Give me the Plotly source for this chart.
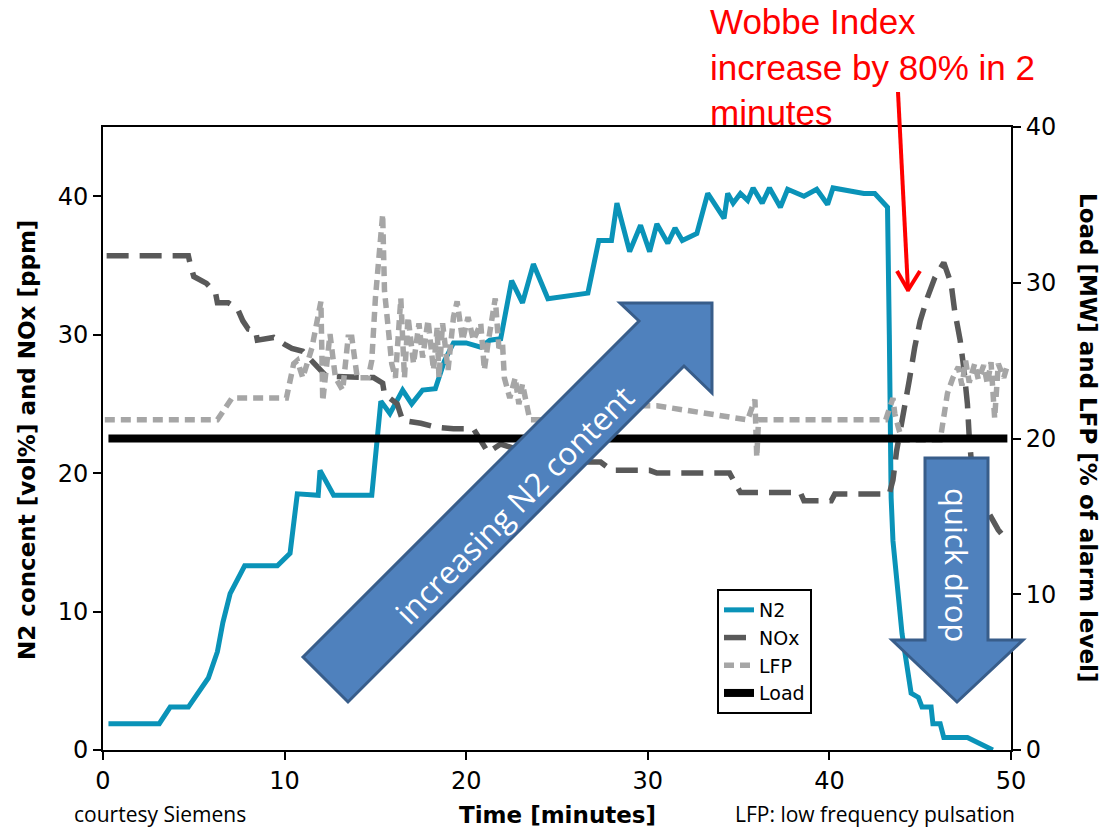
import plotly.graph_objects as go

# ---------------- data ----------------
n2_time = [0.3, 3.1, 3.7, 4.7, 5.8, 6.3, 6.6, 7.0, 7.8, 9.6, 10.3, 10.7, 11.85, 11.95, 12.7,
           14.8, 15.3, 15.8, 16.5, 17.0, 17.6, 18.3, 18.8, 19.3, 20.0, 20.8, 21.3, 21.9, 22.5,
           23.1, 23.7, 24.5, 26.7, 27.3, 28.0, 28.3, 29.0, 29.6, 30.1, 30.5, 31.1, 31.5, 31.9,
           32.7, 33.3, 34.2, 34.4, 34.7, 35.1, 35.5, 35.8, 36.3, 36.7, 37.3, 37.7, 38.6, 39.3,
           39.9, 40.2, 41.9, 42.5, 43.2, 43.3, 43.4, 43.5, 44.0, 44.5, 44.9, 45.1, 45.6, 45.7,
           46.1, 46.3, 47.6, 49.0]
n2_vol = [1.9, 1.9, 3.1, 3.1, 5.2, 7.1, 9.2, 11.3, 13.3, 13.3, 14.2, 18.5, 18.4, 20.2, 18.4,
          18.4, 25.2, 24.3, 26.0, 25.0, 26.0, 26.1, 28.1, 29.4, 29.4, 29.1, 29.6, 29.7, 33.9,
          32.3, 35.1, 32.6, 33.0, 36.8, 36.8, 39.5, 36.0, 37.9, 36.0, 38.0, 36.6, 37.7, 36.8,
          37.3, 40.2, 38.4, 40.2, 39.5, 40.2, 39.7, 40.6, 39.5, 40.6, 39.2, 40.5, 40.0, 40.5,
          39.4, 40.6, 40.2, 40.2, 39.2, 30.0, 18.2, 15.1, 8.4, 4.1, 3.8, 3.1, 3.1, 1.9,
          1.9, 0.9, 0.9, 0.0]

nox_time = [0.2, 4.7, 4.8, 5.0, 5.7, 6.2, 6.3, 6.9, 7.4, 7.7, 8.0, 8.4, 8.5, 9.4, 10.0, 10.4,
            11.0, 11.5, 12.3, 14.9, 15.4, 15.5, 16.2, 16.5, 17.5, 18.4, 19.3, 20.4, 21.2, 21.9,
            22.6, 23.5, 24.1, 27.4, 28.0, 30.1, 30.5, 34.5, 35.1, 38.4, 38.6, 40.1, 40.3, 43.3,
            43.5, 43.7, 44.1, 44.4, 44.7, 45.0, 45.4, 45.8, 46.3, 46.7, 46.9, 47.2, 47.4, 47.6,
            47.7, 47.8, 48.4, 49.3, 49.8]
nox_ppm = [35.7, 35.7, 35.1, 34.2, 33.7, 33.0, 32.3, 32.3, 31.9, 31.0, 30.4, 30.3, 29.6, 29.8,
           29.3, 29.0, 28.8, 28.1, 27.0, 26.9, 26.5, 25.7, 25.0, 23.8, 23.6, 23.3, 23.2, 23.2,
           21.5, 22.1, 21.8, 21.6, 20.8, 20.8, 20.2, 20.2, 20.0, 20.0, 18.6, 18.6, 18.0, 18.0,
           18.5, 18.5, 19.5, 21.6, 24.3, 26.7, 29.1, 31.0, 32.7, 34.1, 35.2, 33.7, 31.7, 29.6,
           27.6, 25.0, 22.6, 21.1, 18.0, 15.9, 15.1]

lfp_time = [0.1, 6.3, 7.1, 10.1, 10.5, 10.7, 11.0, 11.5, 12.0, 12.1, 12.5, 12.8, 13.2, 13.5,
            13.7, 14.0, 14.6, 14.8, 15.0, 15.2, 15.4, 15.5, 15.7, 15.9, 16.1, 16.4, 16.6, 16.8,
            17.1, 17.4, 17.6, 17.9, 18.2, 18.4, 18.5, 18.7, 19.0, 19.3, 19.5, 19.8, 20.1, 20.4,
            20.8, 21.0, 21.2, 21.6, 21.8, 22.0, 22.1, 22.4, 22.7, 22.9, 23.1, 23.4, 23.5, 24.5,
            26.5, 30.5, 35.5, 35.9, 36.0, 36.1, 43.1, 43.5, 43.6, 43.8, 44.0, 46.1, 46.3, 46.5,
            46.8, 47.1, 47.3, 47.5, 47.7, 48.0, 48.2, 48.5, 48.7, 48.9, 49.1, 49.3, 49.6, 49.8]
lfp_pct = [21.2, 21.2, 22.6, 22.6, 24.8, 25.0, 23.9, 25.8, 28.8, 22.4, 26.7, 23.9, 23.1, 26.5,
           26.5, 23.9, 23.9, 25.0, 29.0, 31.6, 34.4, 29.5, 26.9, 24.8, 23.9, 29.0, 23.9, 27.8,
           24.8, 27.4, 25.2, 27.6, 24.4, 27.1, 23.9, 27.4, 24.4, 27.8, 28.8, 26.3, 27.8, 26.3,
           27.4, 24.4, 26.1, 29.0, 25.8, 26.1, 23.9, 22.6, 23.9, 22.2, 23.5, 21.8, 21.2, 21.2,
           22.1, 22.1, 21.2, 22.5, 18.8, 21.2, 21.2, 22.6, 21.6, 20.7, 19.9, 19.9, 21.2, 22.9,
           23.9, 24.6, 23.4, 25.0, 23.6, 24.8, 23.8, 24.7, 23.5, 24.9, 21.3, 24.8, 23.9, 24.7]

load_time = [0.3, 49.8]
load_mw = [20, 20]

x_ticks = [0, 10, 20, 30, 40, 50]
y_ticks = [0, 10, 20, 30, 40]
y2_ticks = [0, 10, 20, 30, 40]

# ---------------- layout helpers (page pixels -> paper) ----------------
W, H = 1103, 831
PL, PR, PT, PB = 103, 1011, 127, 750


def fx(x):
    return (x - PL) / (PR - PL)


def fy(y):
    return (PB - y) / (PB - PT)


def poly(points):
    return "M " + " L ".join(f"{fx(a):.5f},{fy(b):.5f}" for a, b in points) + " Z"


TICK_FONT = dict(family="DejaVu Sans", size=24, color="black")
TITLE_FONT = dict(family="DejaVu Sans", size=23, color="black")

fig = go.Figure()
fig.add_trace(go.Scatter(x=n2_time, y=n2_vol, name="N2", mode="lines",
                         line=dict(color="#0A93B8", width=5)))
fig.add_trace(go.Scatter(x=nox_time, y=nox_ppm, name="NOx", mode="lines",
                         line=dict(color="#595959", width=5.5, dash="22px,11px")))
fig.add_trace(go.Scatter(x=lfp_time, y=lfp_pct, name="LFP", mode="lines", yaxis="y2",
                         line=dict(color="#A6A6A6", width=5.5, dash="10px,6px")))
fig.add_trace(go.Scatter(x=load_time, y=load_mw, name="Load", mode="lines", yaxis="y2",
                         line=dict(color="black", width=8)))

axis_common = dict(showline=True, linecolor="black", linewidth=2, ticks="outside",
                   ticklen=8, tickwidth=2, tickcolor="black", showgrid=False,
                   zeroline=False, tickfont=TICK_FONT)

fig.update_layout(
    width=W, height=H,
    margin=dict(l=PL, r=W - PR, t=PT, b=H - PB, pad=0),
    paper_bgcolor="white", plot_bgcolor="white",
    xaxis=dict(range=[0, 50], tickvals=x_ticks, mirror=True, **axis_common),
    yaxis=dict(range=[0, 45], tickvals=y_ticks, mirror=True, **axis_common),
    yaxis2=dict(range=[0, 40], tickvals=y2_ticks, overlaying="y", side="right",
                **axis_common),
    showlegend=True,
    legend=dict(x=fx(717), y=fy(589), xanchor="left", yanchor="top",
                bgcolor="white", bordercolor="black", borderwidth=2,
                font=dict(family="DejaVu Sans", size=19, color="black"),
                traceorder="normal"),
)

# block arrows
blue_fill = "#4F81BD"
blue_line = "#385D8A"
arrow_up = [(303, 657), (639, 321), (620, 303), (712, 303), (712, 393), (684, 366), (348, 702)]
arrow_down = [(925, 458), (988, 458), (988, 640), (1023, 640), (957, 702), (892, 640), (925, 640)]
for pts in (arrow_up, arrow_down):
    fig.add_shape(type="path", path=poly(pts), xref="paper", yref="paper",
                  fillcolor=blue_fill, line=dict(color=blue_line, width=3), layer="above")

# red arrow
red = "#FF0000"
for (a, b) in [((898, 92), (908, 290)), ((897, 271), (908.5, 291)), ((920, 271), (907.5, 291))]:
    fig.add_shape(type="line", xref="paper", yref="paper",
                  x0=fx(a[0]), y0=fy(a[1]), x1=fx(b[0]), y1=fy(b[1]),
                  line=dict(color=red, width=4), layer="above")

ann = []
ann.append(dict(text="increasing N2 content", x=fx(514), y=fy(505), xref="paper", yref="paper",
                textangle=-45, showarrow=False, xanchor="center", yanchor="middle",
                font=dict(family="Open Sans", size=31.5, color="white")))
ann.append(dict(text="quick drop", x=fx(957), y=fy(565), xref="paper", yref="paper",
                textangle=90, showarrow=False, xanchor="center", yanchor="middle",
                font=dict(family="Open Sans", size=31, color="white")))
ann.append(dict(text="Wobbe Index<br>increase by 80% in 2<br>minutes", x=fx(708), y=fy(0),
                xref="paper", yref="paper", showarrow=False, xanchor="left", yanchor="top",
                align="left", font=dict(family="Liberation Sans, Arial", size=35, color=red)))
ann.append(dict(text="<b>N2 concent [vol%] and NOx [ppm]</b>", x=fx(27), y=fy(440),
                xref="paper", yref="paper", textangle=-90, showarrow=False,
                xanchor="center", yanchor="middle", font=TITLE_FONT))
ann.append(dict(text="<b>Load [MW] and LFP [% of alarm level]</b>", x=fx(1088), y=fy(437),
                xref="paper", yref="paper", textangle=90, showarrow=False,
                xanchor="center", yanchor="middle", font=TITLE_FONT))
ann.append(dict(text="<b>Time [minutes]</b>", x=fx(557), y=fy(815), xref="paper", yref="paper",
                showarrow=False, xanchor="center", yanchor="middle", font=TITLE_FONT))
ann.append(dict(text="courtesy Siemens", x=fx(72), y=fy(830), xref="paper", yref="paper",
                showarrow=False, xanchor="left", yanchor="bottom",
                font=dict(family="Open Sans", size=21, color="black")))
ann.append(dict(text="LFP: low frequency pulsation", x=fx(733), y=fy(830), xref="paper",
                yref="paper", showarrow=False, xanchor="left", yanchor="bottom",
                font=dict(family="Open Sans", size=21, color="black")))
fig.update_layout(annotations=ann)

fig.write_html("out.html", config={"displayModeBar": False},
               post_script="document.body.style.margin='0';")
